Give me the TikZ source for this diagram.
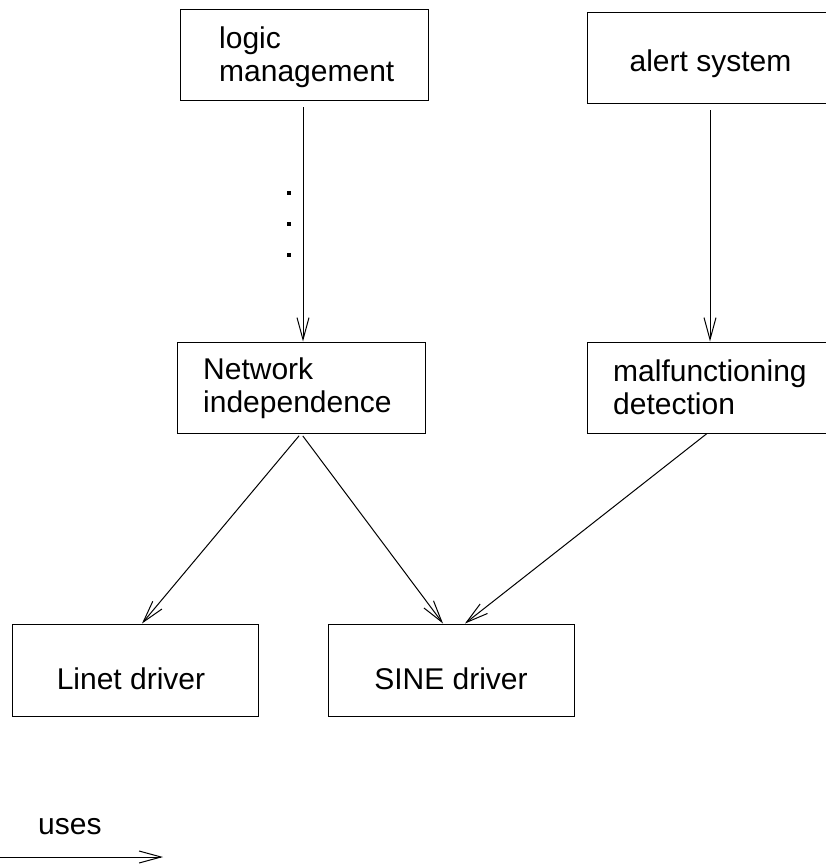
\documentclass[tikz,border=0pt]{standalone}
\usepackage{fontspec}
\setmainfont{Liberation Sans}
\usetikzlibrary{arrows.meta}
\begin{document}
\begin{tikzpicture}[x=1pt,y=-1pt,
  box/.style={draw, line width=1pt, inner sep=0pt, minimum height=91pt, minimum width=246pt},
  lbl/.style={font=\fontsize{30}{33}\selectfont, inner sep=0pt, align=left},
  uses/.style={line width=1pt, -{Straight Barb[length=22pt,width=12pt]}},
  dotmark/.style={fill=black, minimum size=3.5pt, inner sep=0pt}]
\useasboundingbox (0,0) rectangle (825,864);
% boxes
\node[box, minimum width=248pt] (logic) at (304,55.5) {};
\node[box] (alert) at (710,58.5) {};
\node[box, minimum width=248pt] (net) at (301,387.5) {};
\node[box] (malf) at (710,387.5) {};
\node[box, minimum height=92pt] (linet) at (135,670) {};
\node[box, minimum height=92pt] (sine) at (451,670) {};
% labels
\node[lbl, anchor=base west] (logict) at (219,82) {logic\\management};
\node[lbl, anchor=base] (alertt) at (710.5,72) {alert system};
\node[lbl, anchor=base west] (nett) at (203,412) {Network\\independence};
\node[lbl, anchor=base west] (malft) at (613,414) {malfunctioning\\detection};
\node[lbl, anchor=base] (linett) at (131,689) {Linet driver};
\node[lbl, anchor=base] (sinet) at (451,689) {SINE driver};
% dots
\node[dotmark] (d1) at (289,193) {};
\node[dotmark] (d2) at (289,224) {};
\node[dotmark] (d3) at (289,255) {};
% connectors
\draw[uses, shorten <=6pt] ([xshift=-1pt]logic.south) -- ([xshift=2pt]net.north);
\draw[uses, shorten <=6pt] (alert.south) -- (malf.north);
\draw[uses, shorten <=3pt] (net.south) -- ([xshift=7pt]linet.north);
\draw[uses, shorten <=3pt] (net.south) -- ([xshift=-8pt]sine.north);
\draw[uses] ([xshift=-3pt]malf.south) -- ([xshift=14pt]sine.north);
% legend
\node[lbl, anchor=base west] (usest) at (38,834) {uses};
\coordinate (l0) at (0,857);
\coordinate (l1) at (163,857);
\draw[uses] (l0) -- (l1);
\end{tikzpicture}
\end{document}
